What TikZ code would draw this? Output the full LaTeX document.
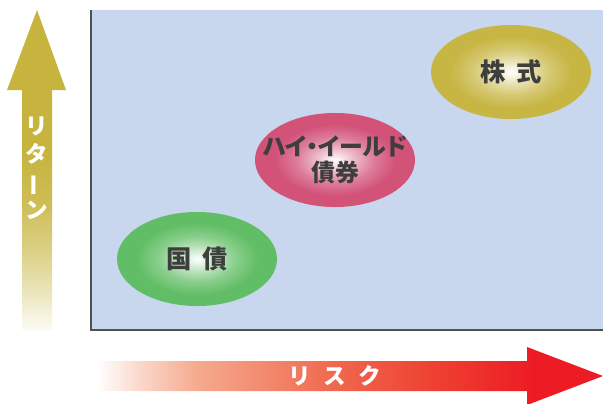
\documentclass[tikz,border=0pt]{standalone}
\usepackage{fontspec}
\newfontfamily\cjk{Noto Sans CJK JP}
\newfontfamily\cjkp[RawFeature=+palt]{Noto Sans CJK JP}
\usetikzlibrary{shapes.geometric}
\definecolor{plotbg}{RGB}{200,214,238}
\definecolor{axisgray}{RGB}{80,80,80}
\definecolor{txtgray}{RGB}{62,62,62}
\definecolor{bondgreen}{RGB}{98,190,102}
\definecolor{hypink}{RGB}{210,82,120}
\definecolor{stockolive}{RGB}{200,182,68}
\definecolor{retolive}{RGB}{198,180,62}
\definecolor{riskA}{RGB}{250,210,195}
\definecolor{riskB}{RGB}{245,170,142}
\definecolor{riskC}{RGB}{240,106,80}
\definecolor{riskD}{RGB}{238,66,50}
\definecolor{riskred}{RGB}{237,28,36}
\pgfdeclareverticalshading{returnfade}{100bp}{color(0bp)=(white); color(25bp)=(retolive!5!white);
  color(31bp)=(retolive!35!white); color(38bp)=(retolive!65!white); color(45bp)=(retolive!88!white);
  color(53bp)=(retolive); color(100bp)=(retolive)}
\pgfdeclarehorizontalshading{riskfade}{100bp}{color(0bp)=(white); color(25bp)=(white);
  color(30bp)=(riskA); color(35bp)=(riskB); color(48bp)=(riskC); color(58bp)=(riskD);
  color(68bp)=(riskred); color(100bp)=(riskred)}
\pgfdeclareradialshading{bondball}{\pgfpointorigin}{color(0bp)=(white); color(6bp)=(bondgreen!40!white);
  color(12bp)=(bondgreen!75!white); color(19bp)=(bondgreen); color(50bp)=(bondgreen)}
\pgfdeclareradialshading{hyball}{\pgfpointorigin}{color(0bp)=(white); color(6bp)=(hypink!40!white);
  color(12bp)=(hypink!75!white); color(19bp)=(hypink); color(50bp)=(hypink)}
\pgfdeclareradialshading{stockball}{\pgfpointorigin}{color(0bp)=(white); color(6bp)=(stockolive!40!white);
  color(12bp)=(stockolive!75!white); color(19bp)=(stockolive); color(50bp)=(stockolive)}
\tikzstyle{asset}=[ellipse, minimum width=4cm, minimum height=2.35cm, inner sep=0pt]
\tikzstyle{assettext}=[text=txtgray, inner sep=0pt, align=center,
font=\cjk\bfseries\fontsize{18}{20}\selectfont]
\tikzstyle{axislabel}=[text=white, inner sep=0pt, align=center,
font=\cjk\bfseries\fontsize{16}{20}\selectfont]

\begin{document}
\begin{tikzpicture}[x=0.025cm,y=-0.025cm]
      \useasboundingbox (0,0) rectangle (603,403);
      % plot area
      \fill[plotbg] (91,10) rectangle (603,330);
      \draw[axisgray, line width=1.4pt] (91,10) -- (91,330) -- (603,330);
      % return arrow
      \shade[shading=returnfade] (37,10) -- (66,90) -- (52,90) -- (52,330) -- (22,330) -- (22,90) -- (7,90) -- cycle;
      \node [axislabel] (ret) at (37,168) {リ\\タ\\\rotatebox[origin=c]{90}{ー}\\ン};
      % risk arrow
      \shade[shading=riskfade] (96,361) -- (527,361) -- (527,347) -- (603,376) -- (527,405) -- (527,391) -- (96,391) -- cycle;
      \node [axislabel] (risk) at (335,376) {リ\hspace{.55em}ス\hspace{.55em}ク};
      % assets
      \node [asset, shading=bondball] (bond) at (197,259) {};
      \node [asset, shading=hyball] (hy) at (335,160) {};
      \node [asset, shading=stockball] (stock) at (511,72) {};
      \node [assettext] (bondtxt) at (bond) {国\hspace{.4em}債};
      \node [assettext, font=\cjkp\bfseries\fontsize{17}{18}\selectfont] (hytxt) at (hy) {ハイ・イールド\\債券};
      \node [assettext] (stocktxt) at (stock) {株\hspace{.4em}式};
  \end{tikzpicture}
\end{document}
